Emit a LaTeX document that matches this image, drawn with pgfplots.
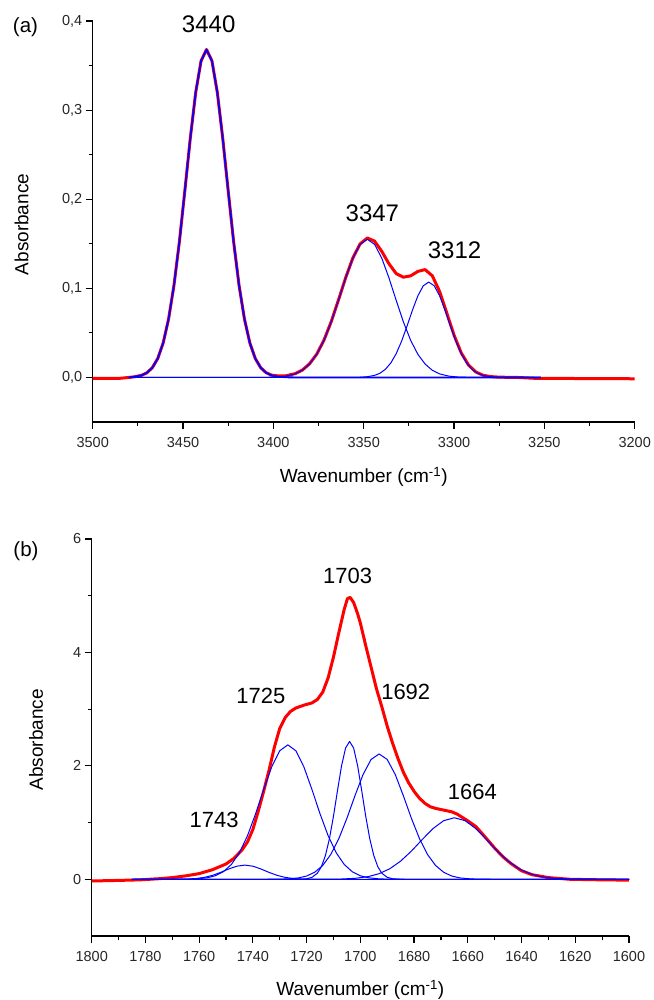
\documentclass[border=0pt]{standalone}
\usepackage{pgfplots}
\pgfplotsset{compat=1.18}
\usepackage{fontspec}
\setmainfont{Liberation Sans}
\definecolor{myred}{RGB}{255,0,0}
\definecolor{myblue}{RGB}{0,0,255}
\pgfplotsset{
  common/.style={
    scale only axis,
    axis lines*=left,
    clip=false,
    x dir=reverse,
    axis line style={line width=1.4pt, black},
    tick style={line width=1.2pt, black},
    major tick length=7pt,
    minor tick length=4pt,
    tick align=outside,
    minor tick num=1,
    /pgf/number format/assume math mode=true,
    tick label style={font=\fontsize{14.5}{16}\selectfont, text=black!85},
    xticklabel style={/pgf/number format/1000 sep={}, yshift=-5pt},
    every axis plot/.append style={line join=round},
  },
  redline/.style={myred, line width=3pt},
  blueline/.style={myblue, line width=1pt},
}
\begin{document}
\begin{tikzpicture}
\useasboundingbox (0,0) rectangle (653pt,1000pt);
% ---------------- (a) ----------------
\begin{axis}[common,
  at={(92.7pt,578pt)}, anchor=south west,
  width=542pt, height=401pt,
  xmin=3200, xmax=3500, ymin=-0.05, ymax=0.4,
  xtick={3200,3250,3300,3350,3400,3450,3500},
  ytick={0,0.1,0.2,0.3,0.4},
  yticklabel style={/pgf/number format/.cd, fixed, fixed zerofill, precision=1, use comma},
  xlabel={Wavenumber (cm\textsuperscript{-1})},
  ylabel={Absorbance},
  every axis x label/.style={at={(axis description cs:0.5,-0.137)}, anchor=center, font=\fontsize{19}{22}\selectfont},
  every axis y label/.style={at={(axis description cs:-0.131,0.4925)}, anchor=center, rotate=90, font=\fontsize{19}{22}\selectfont},
]
\addplot[redline] coordinates {(3500,-0.0012)(3485,-0.001)(3480,0)(3477,0.0007)(3473,0.0023)(3470,0.0052)(3467,0.0109)(3464,0.0212)(3461,0.0386)(3458,0.0655)(3455,0.1035)(3452,0.1525)(3449,0.2094)(3446,0.268)(3443,0.3196)(3440,0.3553)(3437,0.368)(3434,0.3553)(3431,0.3196)(3428,0.268)(3425,0.2094)(3422,0.1525)(3419,0.1035)(3416,0.0655)(3413,0.0386)(3410,0.0212)(3407,0.0109)(3404,0.0053)(3401,0.0026)(3397,0.0016)(3393,0.0019)(3388,0.0042)(3384,0.0082)(3380,0.0152)(3376,0.0261)(3372,0.0418)(3368,0.0624)(3364,0.0866)(3360,0.1118)(3356,0.1341)(3352,0.1498)(3348,0.1565)(3344,0.1530)(3340,0.1415)(3336,0.1275)(3332,0.1165)(3328,0.1125)(3324,0.1140)(3320,0.1190)(3316,0.1210)(3312,0.1140)(3308,0.0965)(3304,0.0722)(3300,0.0475)(3296,0.0275)(3292,0.0140)(3288,0.0062)(3284,0.0025)(3280,0.0010)(3275,0.0003)(3265,0)(3255,-0.001)(3200,-0.0015)};
\addplot[myblue, line width=1.8pt] coordinates {(3480,0)(3477,0.0007)(3473,0.0023)(3470,0.0052)(3467,0.0109)(3464,0.0212)(3461,0.0386)(3458,0.0655)(3455,0.1035)(3452,0.1525)(3449,0.2094)(3446,0.2680)(3443,0.3196)(3440,0.3553)(3437,0.368)(3434,0.3553)(3431,0.3196)(3428,0.2680)(3425,0.2094)(3422,0.1525)(3419,0.1035)(3416,0.0655)(3413,0.0386)(3410,0.0212)(3407,0.0109)(3404,0.0052)(3401,0.0023)(3397,0.0007)(3392,0.0001)(3387,0)(3252,0)};
\addplot[blueline] coordinates {(3480,0)(3404,0.0001)(3398,0.0005)(3393,0.0015)(3388,0.0040)(3384,0.0080)(3380,0.0150)(3376,0.0259)(3372,0.0416)(3368,0.0622)(3364,0.0864)(3360,0.1116)(3356,0.1339)(3352,0.1494)(3348,0.155)(3344,0.1494)(3340,0.1339)(3336,0.1116)(3332,0.0864)(3328,0.0622)(3324,0.0416)(3320,0.0259)(3316,0.0150)(3312,0.0080)(3308,0.0040)(3303,0.0015)(3298,0.0005)(3292,0.0001)(3286,0)(3252,0)};
\addplot[blueline] coordinates {(3480,0)(3352,0.0002)(3348,0.0008)(3344,0.0023)(3341,0.0047)(3338,0.0091)(3335,0.0162)(3332,0.0267)(3329,0.0408)(3326,0.0577)(3323,0.0756)(3320,0.0917)(3317,0.1029)(3314,0.107)(3311,0.1029)(3308,0.0917)(3305,0.0756)(3302,0.0577)(3299,0.0408)(3296,0.0267)(3293,0.0162)(3290,0.0091)(3287,0.0047)(3284,0.0023)(3280,0.0008)(3276,0.0002)(3270,0)(3252,0)};
\node[font=\fontsize{24}{28}\selectfont] at (axis cs:3435.8,0.396) {3440};
\node[font=\fontsize{24}{28}\selectfont] at (axis cs:3345.2,0.184) {3347};
\node[font=\fontsize{24}{28}\selectfont] at (axis cs:3299.7,0.1432) {3312};
\node[font=\fontsize{20.5}{24}\selectfont] at (axis description cs:-0.124,0.9838) {(a)};
\end{axis}
% ---------------- (b) ----------------
\begin{axis}[common,
  at={(91.7pt,64pt)}, anchor=south west,
  width=537.3pt, height=397pt,
  xmin=1600, xmax=1800, ymin=-1, ymax=6,
  xtick={1600,1620,...,1800},
  ytick={0,2,4,6},
  xlabel={Wavenumber (cm\textsuperscript{-1})},
  ylabel={Absorbance},
  every axis x label/.style={at={(axis description cs:0.5,-0.136)}, anchor=center, font=\fontsize{19}{22}\selectfont},
  every axis y label/.style={at={(axis description cs:-0.1037,0.494)}, anchor=center, rotate=90, font=\fontsize{19}{22}\selectfont},
]
\addplot[redline] coordinates {(1800,-0.03)(1790,-0.02)(1782,-0.01)(1775,0.01)(1770,0.03)(1765,0.06)(1760,0.1)(1755,0.17)(1750,0.27)(1747,0.37)(1744,0.52)(1742,0.66)(1740,0.88)(1738,1.2)(1736,1.55)(1734,1.92)(1732,2.33)(1730,2.66)(1728,2.85)(1726,2.96)(1724,3.02)(1721,3.07)(1718,3.11)(1716,3.17)(1714,3.3)(1712,3.55)(1710,3.92)(1708,4.35)(1706,4.76)(1704.8,4.95)(1703.8,4.97)(1702.5,4.88)(1701,4.68)(1700,4.52)(1698,4.12)(1696,3.74)(1694,3.36)(1692,3.04)(1690,2.70)(1688,2.40)(1686,2.13)(1684,1.89)(1682,1.70)(1680,1.55)(1678,1.43)(1676,1.34)(1674,1.28)(1672,1.25)(1670,1.23)(1668,1.21)(1666,1.19)(1664,1.15)(1662,1.09)(1660,1.03)(1657,0.93)(1654,0.77)(1650,0.55)(1647,0.40)(1644,0.28)(1640,0.15)(1636,0.08)(1630,0.03)(1622,0.0)(1610,-0.01)(1600,-0.015)};
\addplot[blueline] coordinates {(1785,0)(1773,0)(1768,0.001)(1764,0.005)(1761,0.014)(1758,0.0338)(1755,0.0695)(1752,0.1217)(1749,0.1815)(1746,0.2308)(1743,0.25)(1740,0.2308)(1737,0.1815)(1734,0.1217)(1731,0.0695)(1728,0.0338)(1725,0.014)(1722,0.005)(1718,0.001)(1713,0)(1600,0)};
\addplot[blueline] coordinates {(1785,0)(1775,0)(1770,0.0002)(1765,0.0017)(1761,0.0073)(1757,0.0263)(1754,0.0619)(1751,0.133)(1748,0.2614)(1745,0.469)(1742,0.7695)(1739,1.154)(1736,1.581)(1733,1.980)(1730,2.266)(1727,2.37)(1724,2.266)(1721,1.980)(1718,1.581)(1715,1.154)(1712,0.7695)(1709,0.469)(1706,0.2614)(1703,0.133)(1700,0.0619)(1697,0.0263)(1693,0.0073)(1689,0.0017)(1684,0.0002)(1679,0)(1600,0)};
\addplot[blueline] coordinates {(1785,0)(1726,0)(1725,0.0002)(1722,0.0021)(1720,0.0094)(1718,0.0345)(1716,0.1067)(1714.5,0.222)(1713,0.419)(1711.5,0.7168)(1710,1.112)(1708.5,1.566)(1707,1.999)(1705.5,2.314)(1704,2.43)(1702.5,2.314)(1701,1.999)(1699.5,1.566)(1698,1.112)(1696.5,0.7168)(1695,0.419)(1693.5,0.222)(1692,0.1067)(1690,0.0345)(1688,0.0094)(1686,0.0021)(1683,0.0002)(1682,0)(1600,0)};
\addplot[blueline] coordinates {(1785,0)(1741,0)(1736,0.0002)(1731,0.0016)(1727,0.0068)(1723,0.0245)(1720,0.0577)(1717,0.124)(1714,0.2438)(1711,0.4374)(1708,0.7176)(1705,1.076)(1702,1.474)(1699,1.846)(1696,2.113)(1693,2.21)(1690,2.113)(1687,1.846)(1684,1.474)(1681,1.076)(1678,0.7176)(1675,0.4374)(1672,0.2438)(1669,0.124)(1666,0.0577)(1663,0.0245)(1659,0.0068)(1655,0.0016)(1650,0.0002)(1645,0)(1600,0)};
\addplot[blueline] coordinates {(1785,0)(1727,0)(1720,0.0001)(1713,0.001)(1707,0.005)(1702,0.0166)(1697,0.0476)(1693,0.0992)(1689,0.1871)(1685,0.3202)(1681,0.4968)(1677,0.6992)(1673,0.8925)(1669,1.0333)(1665,1.085)(1661,1.0333)(1657,0.8925)(1653,0.6992)(1649,0.4968)(1645,0.3202)(1641,0.1871)(1637,0.0992)(1633,0.0476)(1628,0.0166)(1623,0.005)(1617,0.001)(1610,0.0001)(1600,0)};
\node[font=\fontsize{22}{26}\selectfont] at (axis cs:1704.7,5.35) {1703};
\node[font=\fontsize{22}{26}\selectfont] at (axis cs:1737.0,3.24) {1725};
\node[font=\fontsize{22}{26}\selectfont] at (axis cs:1683.1,3.30) {1692};
\node[font=\fontsize{22}{26}\selectfont] at (axis cs:1754.4,1.04) {1743};
\node[font=\fontsize{22}{26}\selectfont] at (axis cs:1658.3,1.54) {1664};
\node[font=\fontsize{20.5}{24}\selectfont] at (axis description cs:-0.1223,0.9698) {(b)};
\end{axis}
\end{tikzpicture}
\end{document}
